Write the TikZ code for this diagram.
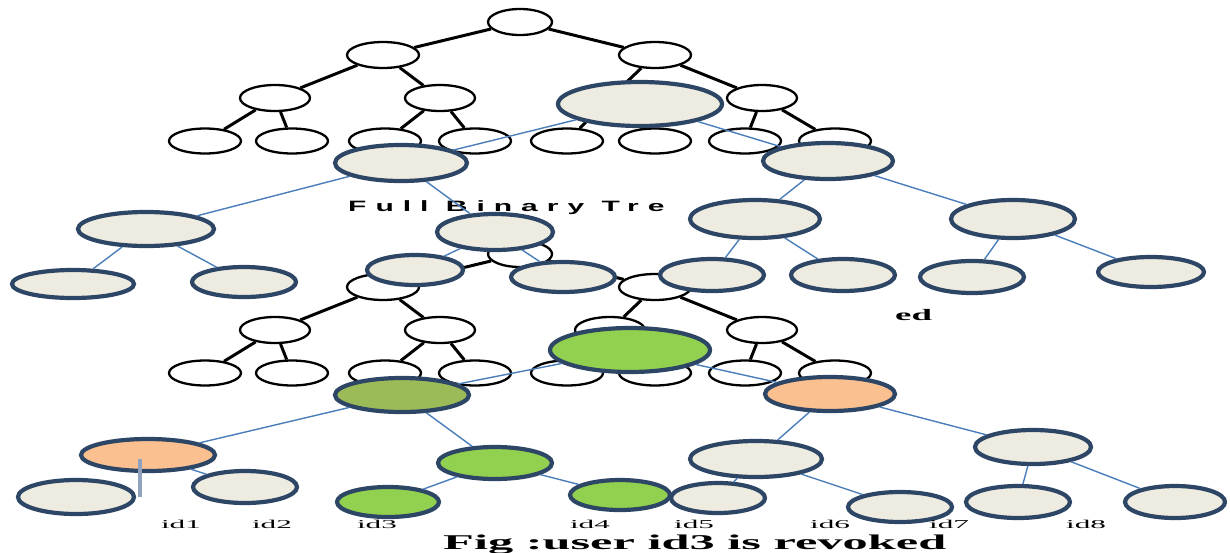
\documentclass[tikz,border=0pt]{standalone}
\usepackage{fontspec}
\usepackage{graphicx}
\setmainfont{Liberation Serif}
\newfontfamily\fbtfont[LetterSpace=30]{Liberation Sans}
\usetikzlibrary{shapes.geometric}
\definecolor{navy}{HTML}{2E4665}
\definecolor{beige}{HTML}{EEECE1}
\definecolor{eblue}{HTML}{4A7EBB}
\definecolor{lgreen}{HTML}{92D050}
\definecolor{olive}{HTML}{9BBB59}
\definecolor{lorange}{HTML}{FAC090}
\definecolor{bgray}{HTML}{8FA3BF}
\tikzset{
  wn/.style={ellipse, draw=black, line width=2.3pt, fill=white, inner sep=0pt, minimum width=72pt, minimum height=26pt},
  be/.style={draw=black, line width=3pt},
  on/.style={ellipse, draw=navy, line width=4.2pt, fill=beige, inner sep=0pt},
  oe/.style={draw=eblue, line width=1.4pt},
  idlab/.style={anchor=base, inner sep=0pt, font=\fontsize{12}{12}\selectfont},
}
\newcommand\mybintree[2]{%
  \begin{scope}[yshift=#2]
    \node[wn, minimum width=64pt, minimum height=26pt] (#1r) at (520,22) {};
    \node[wn] (#1a1) at (383,55) {};
    \node[wn] (#1a2) at (655,55) {};
    \node[wn, minimum width=70pt] (#1b1) at (275,98) {};
    \node[wn, minimum width=70pt] (#1b2) at (440,98) {};
    \node[wn, minimum width=70pt] (#1b3) at (610,98) {};
    \node[wn, minimum width=70pt] (#1b4) at (762,98) {};
    \node[wn, minimum height=25pt] (#1c1) at (205,141) {};
    \node[wn, minimum height=25pt] (#1c2) at (292,141) {};
    \node[wn, minimum height=25pt] (#1c3) at (385,141) {};
    \node[wn, minimum height=25pt] (#1c4) at (475,141) {};
    \node[wn, minimum height=25pt] (#1c5) at (567,141) {};
    \node[wn, minimum height=25pt] (#1c6) at (655,141) {};
    \node[wn, minimum height=25pt] (#1c7) at (745,141) {};
    \node[wn, minimum height=25pt] (#1c8) at (835,141) {};
    \draw[be] (#1r) -- (#1a1);
    \draw[be] (#1r) -- (#1a2);
    \draw[be] (#1a1) -- (#1b1);
    \draw[be] (#1a1) -- (#1b2);
    \draw[be] (#1a2) -- (#1b3);
    \draw[be] (#1a2) -- (#1b4);
    \draw[be] (#1b1) -- (#1c1);
    \draw[be] (#1b1) -- (#1c2);
    \draw[be] (#1b2) -- (#1c3);
    \draw[be] (#1b2) -- (#1c4);
    \draw[be] (#1b3) -- (#1c5);
    \draw[be] (#1b3) -- (#1c6);
    \draw[be] (#1b4) -- (#1c7);
    \draw[be] (#1b4) -- (#1c8);
  \end{scope}}
\begin{document}
\begin{tikzpicture}[x=1pt, y=-1pt]
\useasboundingbox (0,0) rectangle (1230,552);
\fill[white] (0,0) rectangle (1230,552);
% two full binary trees
\mybintree{t}{0pt}
\mybintree{s}{-232pt}
% texts of the first figure
\node[anchor=base west, inner sep=0pt] (fbt) at (348,211)
  {\scalebox{2}[1]{\fbtfont\bfseries\fontsize{15}{15}\selectfont Full Binary Tre}};
\node[anchor=base west, inner sep=0pt] (ed) at (895,320)
  {\scalebox{2.3}[1]{\bfseries\fontsize{16}{16}\selectfont ed}};
% upper overlay tree
\node[on, minimum width=164pt, minimum height=44pt] (u0) at (640,104) {};
\node[on, minimum width=132pt, minimum height=36pt] (u1) at (401,163) {};
\node[on, minimum width=130pt, minimum height=36pt] (u2) at (828,161) {};
\node[on, minimum width=136pt, minimum height=34pt] (u3) at (146,229) {};
\node[on, minimum width=116pt, minimum height=36pt] (u4) at (495,232) {};
\node[on, minimum width=130pt, minimum height=38pt] (u5) at (755,219) {};
\node[on, minimum width=124pt, minimum height=38pt] (u6) at (1013,219) {};
\node[on, minimum width=122pt, minimum height=28pt] (p1) at (73,284) {};
\node[on, minimum width=104pt, minimum height=30pt] (p2) at (244,282) {};
\node[on, minimum width=96pt, minimum height=30pt] (p3) at (415,270) {};
\node[on, minimum width=104pt, minimum height=30pt] (p4) at (563,277) {};
\node[on, minimum width=104pt, minimum height=32pt] (p5) at (712,275) {};
\node[on, minimum width=104pt, minimum height=32pt] (p6) at (843,275) {};
\node[on, minimum width=104pt, minimum height=32pt] (p7) at (972,277) {};
\node[on, minimum width=106pt, minimum height=30pt] (p8) at (1151,272) {};
\draw[oe] (u0) -- (u1);
\draw[oe] (u0) -- (u2);
\draw[oe] (u1) -- (u3);
\draw[oe] (u1) -- (u4);
\draw[oe] (u2) -- (u5);
\draw[oe] (u2) -- (u6);
\draw[oe] (u3) -- (p1);
\draw[oe] (u3) -- (p2);
\draw[oe] (u4) -- (p3);
\draw[oe] (u4) -- (p4);
\draw[oe] (u5) -- (p5);
\draw[oe] (u5) -- (p6);
\draw[oe] (u6) -- (p7);
\draw[oe] (u6) -- (p8);
% lower overlay tree
\node[on, fill=lgreen, minimum width=160pt, minimum height=44pt] (v0) at (630,350) {};
\node[on, fill=olive, minimum width=134pt, minimum height=34pt] (v1) at (402,395) {};
\node[on, fill=lorange, minimum width=130pt, minimum height=34pt] (v2) at (830,394) {};
\node[on, fill=lorange, minimum width=134pt, minimum height=32pt] (v3) at (148,455) {};
\node[on, fill=lgreen, minimum width=114pt, minimum height=32pt] (v4) at (495,463) {};
\node[on, minimum width=132pt, minimum height=36pt] (v5) at (756,459) {};
\node[on, minimum width=116pt, minimum height=34pt] (v6) at (1033,447) {};
\node[on, minimum width=116pt, minimum height=34pt] (m1) at (76,497) {};
\node[on, minimum width=104pt, minimum height=32pt] (m2) at (245,487) {};
\node[on, fill=lgreen, minimum width=102pt, minimum height=30pt] (m3) at (388,502) {};
\node[on, fill=lgreen, minimum width=100pt, minimum height=30pt] (m4) at (620,495) {};
\node[on, minimum width=94pt, minimum height=30pt] (m5) at (718,498) {};
\node[on, minimum width=104pt, minimum height=30pt] (m6) at (900,507) {};
\node[on, minimum width=104pt, minimum height=32pt] (m7) at (1018,502) {};
\node[on, minimum width=100pt, minimum height=32pt] (m8) at (1175,502) {};
\draw[oe] (v0) -- (v1);
\draw[oe] (v0) -- (v2);
\draw[oe] (v1) -- (v3);
\draw[oe] (v1) -- (v4);
\draw[oe] (v2) -- (v5);
\draw[oe] (v2) -- (v6);
\draw[draw=bgray, line width=3.5pt] ([xshift=-8pt, yshift=-4pt]v3.center) -- ([xshift=-8pt]v3.center |- m1.east);
\draw[oe] (v3) -- (m2);
\draw[oe] (v4) -- (m3);
\draw[oe] (v4) -- (m4);
\draw[oe] (v5) -- (m5);
\draw[oe] (v5) -- (m6);
\draw[oe] (v6) -- (m7);
\draw[oe] (v6) -- (m8);
% labels
\node[idlab] (id1) at (181,528) {\scalebox{2.6}[1]{id1}};
\node[idlab] (id2) at (272,528) {\scalebox{2.6}[1]{id2}};
\node[idlab] (id3) at (377,528) {\scalebox{2.6}[1]{id3}};
\node[idlab] (id4) at (590,528) {\scalebox{2.6}[1]{id4}};
\node[idlab] (id5) at (694,528) {\scalebox{2.6}[1]{id5}};
\node[idlab] (id6) at (830,528) {\scalebox{2.6}[1]{id6}};
\node[idlab] (id7) at (949,528) {\scalebox{2.6}[1]{id7}};
\node[idlab] (id8) at (1086,528) {\scalebox{2.6}[1]{id8}};
\node[anchor=base west, inner sep=0pt] (cap) at (443,549)
  {\scalebox{2.4}[1]{\bfseries\fontsize{21}{21}\selectfont Fig :user id3 is revoked}};
\end{tikzpicture}
\end{document}
